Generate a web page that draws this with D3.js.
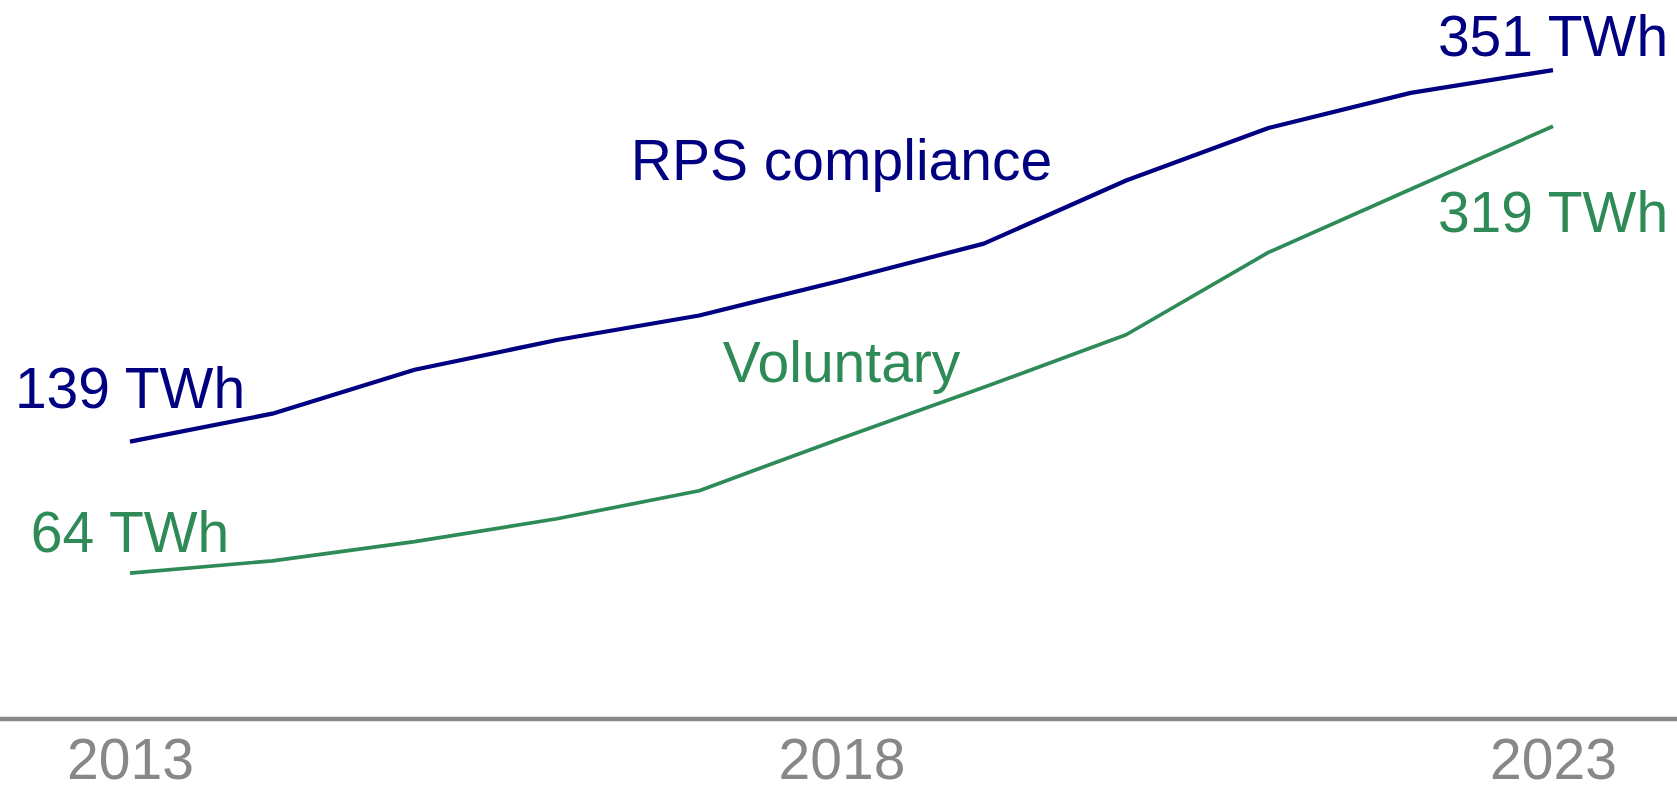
<!DOCTYPE html>
<html>
<head>
<meta charset="utf-8">
<script src="https://cdn.jsdelivr.net/npm/d3@7"></script>
<style>
  html, body { margin: 0; padding: 0; background: #fff; }
  svg { display: block; font-family: "Liberation Sans", Arial, Helvetica, sans-serif; }
</style>
</head>
<body>
<div id="chart"></div>
<script>
(() => {
  "use strict";

  // Renewable electricity sold, TWh
  const years = [2013, 2014, 2015, 2016, 2017, 2018, 2019, 2020, 2021, 2022, 2023];
  const rps = [139, 155, 180, 197, 211, 231, 252, 288, 318, 338, 351];
  const voluntary = [64, 71, 82, 95, 111, 141, 170, 200, 247, 283, 319];
  const tickYears = [2013, 2018, 2023];

  const NAVY = "#000080";
  const GREEN = "#2e8b57";
  const GREY = "#888888";

  const width = 1677;
  const height = 785;

  const x = d3.scaleLinear().domain([2013, 2023]).range([130, 1553]);
  const y = d3.scaleLinear().domain([0, 391]).range([685.3, 0]);

  const svg = d3.select("#chart")
    .append("svg")
    .attr("width", width)
    .attr("height", height)
    .attr("viewBox", `0 0 ${width} ${height}`);

  // baseline rule across the full width, with year labels under it
  svg.append("line")
    .attr("x1", 0).attr("x2", width)
    .attr("y1", 719).attr("y2", 719)
    .attr("stroke", GREY)
    .attr("stroke-width", 4.5);

  const xAxis = d3.axisBottom(x)
    .tickValues(tickYears)
    .tickFormat(d3.format("d"))
    .tickSize(0)
    .tickPadding(0);

  const ax = svg.append("g")
    .attr("transform", "translate(0,779)")
    .call(xAxis);
  ax.select(".domain").remove();
  ax.selectAll("text")
    .attr("dy", 0)
    .attr("y", 0)
    .attr("fill", GREY)
    .style("font-size", "57px")
    .style("font-family", "\"Liberation Sans\", Arial, Helvetica, sans-serif");

  const line = d3.line()
    .x((d) => x(d.year))
    .y((d) => y(d.value));

  const series = [
    { key: "rps", values: rps, color: NAVY, width: 4.2 },
    { key: "voluntary", values: voluntary, color: GREEN, width: 3.7 },
  ];

  series.forEach((s) => {
    const pts = years.map((yr, i) => ({ year: yr, value: s.values[i] }));
    svg.append("path")
      .datum(pts)
      .attr("fill", "none")
      .attr("stroke", s.color)
      .attr("stroke-width", s.width)
      .attr("stroke-linejoin", "round")
      .attr("d", line);
  });

  // labels, placed relative to the data points they describe
  const last = years.length - 1;
  const labels = [
    { text: `${rps[0]} TWh`, year: years[0], value: rps[0], dy: -34, color: NAVY },
    { text: `${voluntary[0]} TWh`, year: years[0], value: voluntary[0], dy: -21, color: GREEN },
    { text: `${rps[last]} TWh`, year: years[last], value: rps[last], dy: -14, color: NAVY },
    { text: `${voluntary[last]} TWh`, year: years[last], value: voluntary[last], dy: 106, color: GREEN },
    { text: "RPS compliance", year: 2018, value: rps[5], dy: -100, color: NAVY },
    { text: "Voluntary", year: 2018, value: voluntary[5], dy: -56, color: GREEN },
  ];

  svg.selectAll("text.lbl")
    .data(labels)
    .join("text")
    .attr("class", "lbl")
    .attr("x", (d) => x(d.year))
    .attr("y", (d) => y(d.value) + d.dy)
    .attr("text-anchor", "middle")
    .attr("fill", (d) => d.color)
    .style("font-size", "57px")
    .text((d) => d.text);
})();
</script>
</body>
</html>
